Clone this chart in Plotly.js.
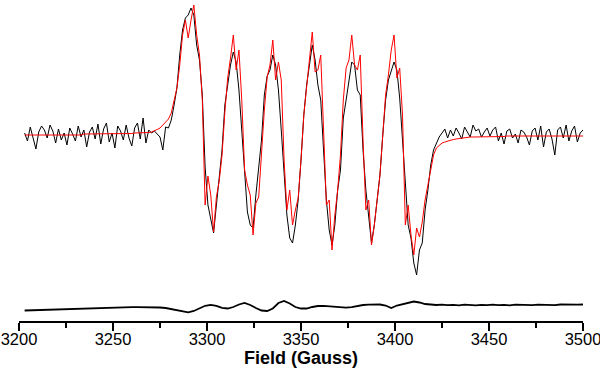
<!DOCTYPE html>
<html>
<head>
<meta charset="utf-8">
<script src="https://cdn.plot.ly/plotly-3.0.1.min.js"></script>
<style>html,body{margin:0;padding:0;background:#fff;}#chart{width:600px;height:372px;}</style>
</head>
<body>
<div id="chart"></div>
<script>
// Field axis (Gauss)
const fieldStart = 3203;
const fieldStep = 1.5;
const residStart = 3203;
const residStep = 3;
const tickValues = [3200, 3250, 3300, 3350, 3400, 3450, 3500];
const tickLabels = ["3200", "3250", "3300", "3350", "3400", "3450", "3500"];
const axisTitle = "Field (Gauss)";

// Experimental spectrum (black)
const experimental = [
  2, -6, 8, -4, -14, 3, 9, 5, -3, 10,
  4, -8, 6, -5, 2, -10, 7, 1, -6, 9,
  -2, 5, -12, 3, 8, -4, 11, -9, 6, 12,
  -7, 2, -13, 9, 4, -5, 10, -3, -11, 7,
  12, -4, 17, -8, 5, 2, 4, 1, -2, -15,
  8, 7, 15, 30, 47, 80, 105, 117, 120, 127,
  120, 90, 75, 40, -32, -70, -85, -98, -70, -45,
  -15, 30, 53, 70, 83, 73, 45, 5, -40, -77,
  -90, -93, -60, -33, -5, 40, 59, 65, 80, 70,
  45, 5, -37, -80, -103, -108, -90, -65, -25, 20,
  50, 70, 90, 75, 50, 35, -15, -65, -95, -110,
  -90, -55, -35, 17, 35, 55, 73, 70, 45, 40,
  -15, -55, -85, -108, -90, -65, -40, 0, 35, 55,
  65, 73, 65, 37, -5, -50, -90, -103, -128, -140,
  -115, -108, -75, -55, -30, -15, -8, -2,
  2, 6, -3, 5, -1, 7, 2, -4, 8, 3,
  -2, 10, 4, 6, -2, 3, 7, -1, 5, 8,
  -6, 2, -9, 4, 6, -3, 1, -8, 5, 3,
  -2, -10, 4, 7, -5, 9, -12, 3, 6, -4,
  -20, 5, 8, -3, 10, -6, 4, 9, -7, 2,
  5
];

// Simulated spectrum (red)
const simulated = [
  0, 0, 0, 0, 0, 0, 0, 0, 0, 0,
  0, 0, 0, 0, 0, 0, 0, 0, 0, 0,
  0, 1, 1, 1, 1, 1, 1, 1, 1, 1,
  1, 1, 1, 1, 1, 1, 1.5, 1.5, 1.5, 2,
  2, 2, 2, 2.5, 2.5, 3, 4, 5.5, 7, 10,
  13, 16, 22, 34, 47, 70, 100, 115, 97, 115,
  130, 100, 80, 35, -70, -41, -60, -97, -62, -46,
  -20, 23, 57, 77, 100, 65, 85, 35, -35, -50,
  -60, -100, -68, -62, -15, 25, 58, 70, 95, 55,
  73, 55, -25, -75, -55, -90, -75, -63, -25, 20,
  48, 73, 103, 63, 65, 80, -5, -70, -65, -115,
  -80, -55, -20, 35, 67, 75, 100, 70, 65, 80,
  -5, -75, -65, -110, -90, -65, -40, 0, 40, 60,
  85, 100, 57, 67, 20, -90, -70, -100, -120, -93,
  -102, -87, -65, -50, -33, -20, -13, -10, -8, -7,
  -6, -5, -4.5, -4, -3.5, -3, -2.5, -2.5, -2, -2,
  -2, -1.5, -1.5, -1.5, -1.5, -1.5, -1.5, -1.5, -1.5, -1.5,
  -1.5, -1, -1, -1, -1, -1, -1, -1, -1, -1,
  -1, -1, -1, -1, -1, -1, -1, -1, -1, -1,
  -1, -1, -1, -1, -1, -1, -1, -1, -1
];

// Residual (experimental - simulated), drawn offset below
const residual = [
  -175.5, -175.3, -175, -174.8, -174.6, -174.4, -174.2, -174, -173.8, -173.6,
  -173.4, -173.2, -173, -172.9, -172.7, -172.6, -172.5, -172.4, -172.3, -172.2,
  -172.2, -172.1, -172, -172, -172.5, -173, -174, -175.5, -176.5, -177.3,
  -176, -173.5, -170.8, -169.8, -170.8, -172.8, -173.5, -172, -169.5, -168,
  -170, -173, -175.5, -176, -173.5, -168, -166, -168.5, -172, -173.5,
  -173.5, -172, -171, -170.8, -171.3, -172, -172.6, -172.7, -172.2, -171,
  -170, -169.6, -169.8, -169.5, -170.5, -173, -170.5, -169, -167.5, -166.5,
  -167.5, -169, -169.5,
  -170, -169.6, -170.2, -169.8, -170.3, -169.7, -170, -170.4, -169.8, -170.1,
  -169.6, -170.2, -169.9, -170.3, -169.7, -170, -169.8, -170.2, -169.6, -169.9,
  -169.7, -170.1, -169.5, -169.8, -169.6, -169.7, -169.5
];

const FONT = "Liberation Sans, Arial, Helvetica, sans-serif";

const traces = [
  {type: "scatter", mode: "lines", x0: fieldStart, dx: fieldStep, y: experimental,
   line: {color: "#000000", width: 1}, hoverinfo: "skip"},
  {type: "scatter", mode: "lines", x0: fieldStart, dx: fieldStep, y: simulated,
   line: {color: "#ff0000", width: 1}, hoverinfo: "skip"},
  {type: "scatter", mode: "lines", x0: residStart, dx: residStep, y: residual,
   line: {color: "#000000", width: 1.8}, hoverinfo: "skip"}
];

const layout = {
  width: 600, height: 372,
  margin: {l: 19, r: 17, t: 0, b: 51},
  paper_bgcolor: "#ffffff", plot_bgcolor: "#ffffff",
  showlegend: false,
  font: {family: FONT, color: "#000000"},
  xaxis: {
    range: [3200, 3500],
    tickmode: "array", tickvals: tickValues, ticktext: tickLabels,
    ticks: "outside", ticklen: 8, tickwidth: 1.5, tickcolor: "#000",
    ticklabeloverflow: "allow",
    ticklabelstandoff: -5,
    showline: true, linewidth: 1.5, linecolor: "#000",
    showgrid: false, zeroline: false,
    tickfont: {size: 16.5, family: FONT, color: "#000"},
    minor: {dtick: 25, tick0: 3200, ticks: "outside", ticklen: 5, tickwidth: 1.5, tickcolor: "#000", showgrid: false},
    title: {text: "<b>" + axisTitle + "</b>", font: {size: 18, family: FONT, color: "#000"}, standoff: 2},
    automargin: false
  },
  yaxis: {
    visible: false, range: [-186, 135], showgrid: false, zeroline: false
  }
};

Plotly.newPlot("chart", traces, layout, {displayModeBar: false, staticPlot: true});
</script>
</body>
</html>
